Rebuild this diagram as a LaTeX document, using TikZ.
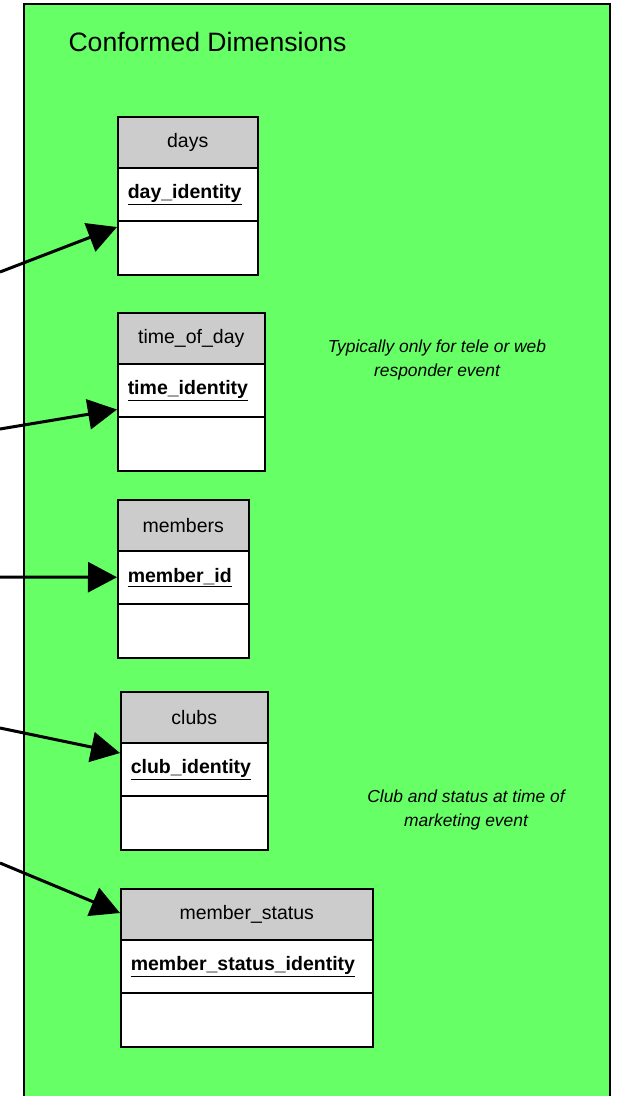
\documentclass[tikz,border=0pt]{standalone}
\usepackage{fontspec}
\setmainfont{Liberation Sans}
\usetikzlibrary{arrows.meta}
\definecolor{bggreen}{HTML}{66FF66}
\definecolor{hdrgray}{HTML}{CCCCCC}
\tikzset{
  panel/.style={draw=black, line width=2pt, fill=bggreen},
  hdrbox/.style={draw=black, line width=1.5pt, fill=hdrgray, anchor=north west, minimum height=51pt, inner sep=0pt, font=\fontsize{19.5}{22}\selectfont},
  keybox/.style={draw=black, line width=1.5pt, fill=white, anchor=north west, minimum height=53pt, inner xsep=10pt, inner ysep=0pt, align=left, font=\bfseries\fontsize{19.5}{22}\selectfont},
  emptybox/.style={draw=black, line width=1.5pt, fill=white, anchor=north west, minimum height=54pt, inner sep=0pt},
  fk/.style={line width=3pt, -{Triangle[length=29pt,width=30pt]}},
  note/.style={font=\itshape\fontsize{17.4}{24.5}\selectfont, align=center},
  titletext/.style={font=\fontsize{26.6}{30}\selectfont, anchor=west}
}
\newcommand\dimtable[6]{%
  \node[hdrbox, minimum width=#4pt] (#1H) at (#2,#3) {#5};
  \node[keybox, minimum width=#4pt, text width=#4pt-20pt] (#1K) at (#2,#3+51) {\underline{#6}\vphantom{Ag}};
  \node[emptybox, minimum width=#4pt] (#1E) at (#2,#3+104) {};
}
\begin{document}
\begin{tikzpicture}[x=1pt,y=-1pt]
\useasboundingbox (0,0) rectangle (621,1096);
\path[panel] (24,4) -- (610,4) -- (610,1100) -- (24,1100) -- cycle;
\node[titletext] (title) at (65,42) {Conformed Dimensions};

\dimtable{days}{117}{116}{140}{days}{day\_identity}
\dimtable{time}{117}{312}{147}{time\_of\_day}{time\_identity}
\dimtable{mem}{117}{499}{131}{members}{member\_id}
\dimtable{club}{120}{691}{147}{clubs}{club\_identity}
\dimtable{stat}{120}{888}{252}{member\_status}{member\_status\_identity}

\node[note] (note1) at (437,360) {Typically only for tele or web\\responder event};
\node[note] (note2) at (466,810) {Club and status at time of\\marketing event};

\coordinate (s1) at (0,272);
\coordinate (s2) at (0,429);
\coordinate (s3) at (0,577);
\coordinate (s4) at (0,728);
\coordinate (s5) at (0,863);
\draw[fk] (s1) -- ([yshift=-7pt]daysE.north west);
\draw[fk] (s2) -- ([yshift=8pt]timeK.south west);
\draw[fk] (s3) -- (memK.west);
\draw[fk] (s4) -- ([yshift=-11pt]clubK.north west);
\draw[fk] (s5) -- ([yshift=-25pt]statH.north west);
\end{tikzpicture}
\end{document}
